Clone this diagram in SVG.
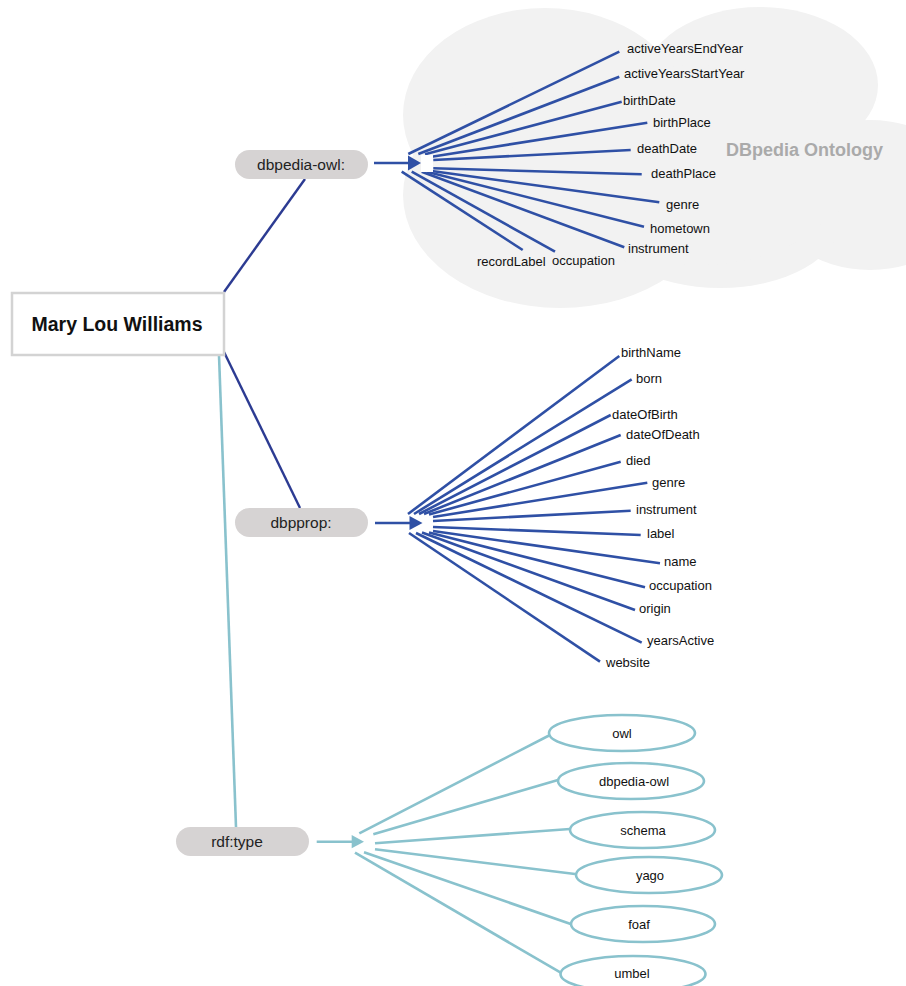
<svg xmlns="http://www.w3.org/2000/svg" width="906" height="986" viewBox="0 0 906 986">
<style>
.cloud{fill:#f2f2f2}
.blue{stroke:#2f50a5;stroke-width:2.6;fill:none;stroke-linecap:butt}
.navy{stroke:#2c3b92;stroke-width:2.4;fill:none}
.teal{stroke:#89c2cd;stroke-width:2.6;fill:none}
.lbl{font-family:"Liberation Sans",Arial,sans-serif;font-size:13px;fill:#111}
.pill{fill:#d6d3d3}
.ptxt{font-family:"Liberation Sans",Arial,sans-serif;font-size:15.5px;fill:#222;text-anchor:middle}
.ell{fill:#fff;stroke:#89c2cd;stroke-width:2.6}
.etxt{font-family:"Liberation Sans",Arial,sans-serif;font-size:13px;fill:#111;text-anchor:middle}
</style>
<rect width="906" height="986" fill="#fff"/>
<g id="cloud">
<ellipse class="cloud" cx="545" cy="115" rx="142" ry="107"/>
<ellipse class="cloud" cx="560" cy="195" rx="157" ry="113"/>
<ellipse class="cloud" cx="760" cy="85" rx="118" ry="78"/>
<ellipse class="cloud" cx="870" cy="195" rx="100" ry="75"/>
<ellipse class="cloud" cx="720" cy="220" rx="120" ry="68"/>
<ellipse class="cloud" cx="700" cy="165" rx="150" ry="100"/>
<text x="726" y="156" font-family="Liberation Sans,Arial,sans-serif" font-size="18" font-weight="bold" fill="#aaaaaa">DBpedia Ontology</text>
</g>
<g id="connectors">
<line class="navy" x1="224" y1="292" x2="305" y2="179"/>
<line class="navy" x1="224" y1="352" x2="300" y2="508"/>
<line class="teal" x1="219" y1="355" x2="236" y2="827"/>
<line class="blue" x1="374" y1="163" x2="410" y2="163"/>
<polygon points="408,155.5 421,163 408,170.5" fill="#2f50a5"/>
<line class="blue" x1="408.3" y1="154" x2="619.3" y2="51.7"/>
<line class="blue" x1="418.3" y1="154" x2="619.3" y2="76.7"/>
<line class="blue" x1="425" y1="154.3" x2="621.7" y2="101.7"/>
<line class="blue" x1="431.7" y1="156.7" x2="647.3" y2="122.7"/>
<line class="blue" x1="433.3" y1="160" x2="630.7" y2="150"/>
<line class="blue" x1="433.3" y1="168.3" x2="641.7" y2="174.3"/>
<line class="blue" x1="431.7" y1="171" x2="659.3" y2="202.3"/>
<line class="blue" x1="426.7" y1="171.7" x2="644" y2="226.7"/>
<line class="blue" x1="421.7" y1="171.7" x2="624.3" y2="247.3"/>
<line class="blue" x1="411.7" y1="171.7" x2="555" y2="251.7"/>
<line class="blue" x1="401.7" y1="171.7" x2="522.7" y2="250"/>
<rect x="421" y="155" width="12" height="17" fill="#fff"/>
<line class="blue" x1="375" y1="523" x2="411" y2="523"/>
<polygon points="409.5,516 422.5,523 409.5,530" fill="#2f50a5"/>
<line class="blue" x1="408" y1="514" x2="619.3" y2="356"/>
<line class="blue" x1="414" y1="514" x2="631.7" y2="379.3"/>
<line class="blue" x1="419" y1="514" x2="610.7" y2="415"/>
<line class="blue" x1="424" y1="514" x2="620.7" y2="435"/>
<line class="blue" x1="429" y1="514.5" x2="620.7" y2="461.7"/>
<line class="blue" x1="433" y1="517" x2="647.3" y2="482.7"/>
<line class="blue" x1="433" y1="521" x2="630.7" y2="510.7"/>
<line class="blue" x1="433" y1="527" x2="640.7" y2="535"/>
<line class="blue" x1="433" y1="531" x2="660" y2="563.3"/>
<line class="blue" x1="429" y1="532.5" x2="645" y2="587.3"/>
<line class="blue" x1="422" y1="532.5" x2="635" y2="610"/>
<line class="blue" x1="416" y1="533" x2="641.7" y2="642.7"/>
<line class="blue" x1="409" y1="533" x2="600" y2="661.7"/>
<line class="teal" x1="316.7" y1="841.7" x2="353" y2="841.7"/>
<polygon points="351.7,835 364,841.7 351.7,848.3" fill="#89c2cd"/>
<line class="teal" x1="359.3" y1="833.3" x2="550" y2="735"/>
<line class="teal" x1="373.3" y1="834.3" x2="558" y2="780"/>
<line class="teal" x1="375" y1="843.3" x2="570" y2="829"/>
<line class="teal" x1="375" y1="849.3" x2="575" y2="874"/>
<line class="teal" x1="364" y1="852.3" x2="570.7" y2="924"/>
<line class="teal" x1="355" y1="852.7" x2="560.7" y2="972.7"/>
</g>
<g id="mary">
<rect x="12" y="293" width="212" height="62" fill="#fff" stroke="#d3d3d3" stroke-width="2.5"/>
<text x="117" y="331" font-family="Liberation Sans,Arial,sans-serif" font-size="19.5" font-weight="bold" fill="#111" text-anchor="middle">Mary Lou Williams</text>
</g>
<g id="dbpedia-owl">
<rect class="pill" x="235" y="150" width="133" height="29" rx="14.5"/>
<text class="ptxt" x="301" y="170">dbpedia-owl:</text>
</g>
<g id="dbpprop">
<rect class="pill" x="235" y="508" width="133" height="29" rx="14.5"/>
<text class="ptxt" x="301" y="528">dbpprop:</text>
</g>
<g id="rdftype">
<rect class="pill" x="176" y="827" width="133" height="29" rx="14.5"/>
<text class="ptxt" x="237" y="847">rdf:type</text>
</g>
<g id="owl-props">
<text class="lbl" x="627" y="53">activeYearsEndYear</text>
<text class="lbl" x="624" y="78">activeYearsStartYear</text>
<text class="lbl" x="623" y="105">birthDate</text>
<text class="lbl" x="653" y="127">birthPlace</text>
<text class="lbl" x="637" y="152.5">deathDate</text>
<text class="lbl" x="651" y="177.5">deathPlace</text>
<text class="lbl" x="666" y="209">genre</text>
<text class="lbl" x="650" y="232.5">hometown</text>
<text class="lbl" x="628" y="252.5">instrument</text>
<text class="lbl" x="477" y="265.5">recordLabel</text>
<text class="lbl" x="552" y="265">occupation</text>
</g>
<g id="prop-props">
<text class="lbl" x="621" y="357">birthName</text>
<text class="lbl" x="636" y="383">born</text>
<text class="lbl" x="612" y="419">dateOfBirth</text>
<text class="lbl" x="626" y="439">dateOfDeath</text>
<text class="lbl" x="626" y="465">died</text>
<text class="lbl" x="652" y="487">genre</text>
<text class="lbl" x="636" y="514">instrument</text>
<text class="lbl" x="647" y="538">label</text>
<text class="lbl" x="664" y="566">name</text>
<text class="lbl" x="649" y="590">occupation</text>
<text class="lbl" x="639" y="613">origin</text>
<text class="lbl" x="647" y="645">yearsActive</text>
<text class="lbl" x="606" y="667">website</text>
</g>
<g id="type-owl"><ellipse class="ell" cx="622" cy="733" rx="73" ry="18"/><text class="etxt" x="622" y="737.5">owl</text></g>
<g id="type-dbpedia-owl"><ellipse class="ell" cx="631" cy="781" rx="73" ry="18"/><text class="etxt" x="634" y="785.5">dbpedia-owl</text></g>
<g id="type-schema"><ellipse class="ell" cx="642.5" cy="830" rx="72.5" ry="18"/><text class="etxt" x="643" y="834.5">schema</text></g>
<g id="type-yago"><ellipse class="ell" cx="649" cy="875" rx="73" ry="18"/><text class="etxt" x="650" y="879.5">yago</text></g>
<g id="type-foaf"><ellipse class="ell" cx="643" cy="924" rx="72" ry="18"/><text class="etxt" x="639" y="928.5">foaf</text></g>
<g id="type-umbel"><ellipse class="ell" cx="633" cy="974" rx="72.5" ry="18"/><text class="etxt" x="632" y="977.5">umbel</text></g>
</svg>
